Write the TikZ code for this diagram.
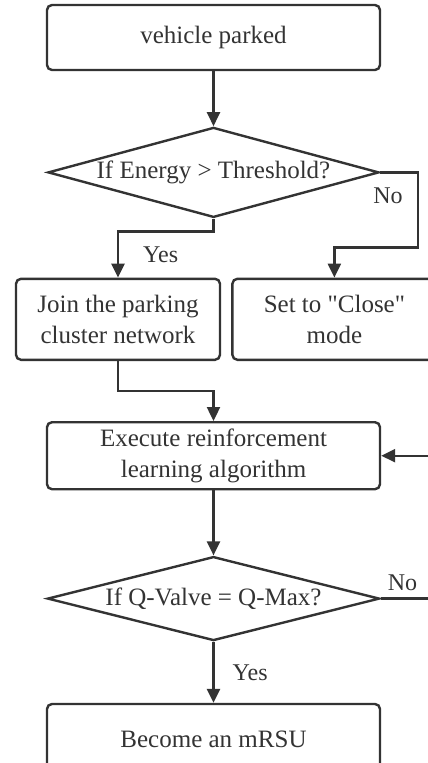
\documentclass[tikz,border=0pt]{standalone}
\usepackage{fontspec}
\setmainfont{Liberation Serif}[Ligatures=TeXOff]
\usetikzlibrary{arrows.meta,positioning,shapes.geometric}
\definecolor{linecol}{HTML}{333333}

\begin{document}
\begin{tikzpicture}[
  font=\fontsize{25}{31.5}\selectfont,
  node distance=55pt and 10pt,
  box/.style={draw=linecol,text=linecol,line width=2.4pt,rounded corners=5pt,
              minimum width=333pt,minimum height=66pt,align=center,inner sep=0pt},
  halfbox/.style={box,minimum width=204pt,minimum height=81pt},
  dec/.style={diamond,draw=linecol,text=linecol,line width=2.4pt,inner sep=0pt,
              aspect=3.67,minimum width=331pt,minimum height=90pt},
  arr/.style={-{Triangle[length=14pt,width=13pt]},line width=2.4pt,draw=linecol},
  lbl/.style={text=linecol,inner sep=0pt,font=\fontsize{24}{28}\selectfont},
]
\useasboundingbox (-213.5pt,37.5pt) rectangle (214.5pt,-725.5pt);
\coordinate (rim) at (220pt,0);

\node[box, minimum height=65pt] (park) {vehicle parked};
\node[dec, below=55pt of park] (energy) {If Energy > Threshold?};
\node[halfbox, below=59pt of energy, xshift=-95.5pt] (join)
  {Join the parking\\cluster network};
\node[halfbox, right=10pt of join] (close)
  {Set to "Close"\\mode};
\node[box, minimum height=67pt, below=60pt of join, xshift=95.5pt] (exec)
  {Execute reinforcement\\learning algorithm};
\node[dec, aspect=3.95, minimum width=332pt, minimum height=84pt,
      below=65pt of exec] (qmax) {If Q-Valve = Q-Max?};
\node[box, minimum height=70pt, below=61pt of qmax] (mrsu) {Become an mRSU};

\draw[arr] (park) -- (energy);
\draw[arr] (energy.south) -- ++(0,-13pt) -| node[lbl,pos=0.75,right=24pt]{Yes} (join.north);
\draw[arr] (energy.east) -- ++(38pt,0) -- ++(0,-75pt) -| (close.north);
\node[lbl, below right=15pt and -7pt of energy.east] {No};
\draw[arr] (join.south) -- ++(0,-30pt) -| (exec.north);
\draw[arr] (exec) -- (qmax);
\draw[arr] (qmax) -- node[lbl,right=18pt]{Yes} (mrsu);
\draw[line width=2.4pt,draw=linecol] (qmax.east) -- (qmax.east -| rim);
\node[lbl, above right=8pt and 7pt of qmax.east] {No};
\draw[arr] (exec.east -| rim) -- (exec.east);
\end{tikzpicture}
\end{document}
